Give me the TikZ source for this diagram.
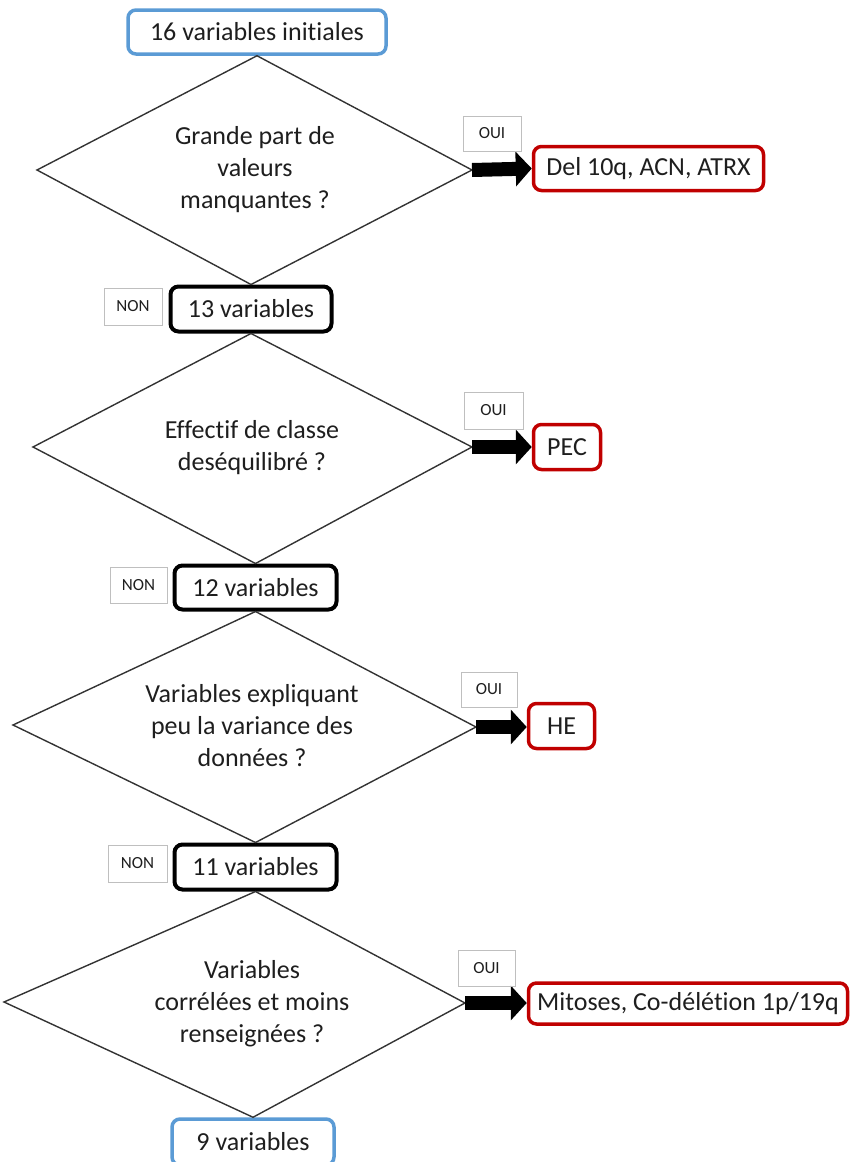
\documentclass[tikz,border=0pt]{standalone}
\usepackage{fontspec}
\setmainfont{Carlito}[Ligatures={NoCommon}]
\usetikzlibrary{arrows.meta}
\definecolor{boxblue}{RGB}{91,155,213}
\definecolor{boxred}{RGB}{192,0,0}
\definecolor{lblgray}{RGB}{191,191,191}
\definecolor{txt}{RGB}{30,30,30}
\tikzset{
  basebox/.style={rectangle, rounded corners=8pt, inner sep=0pt, text=txt,
    font=\fontsize{26}{32}\selectfont},
  bluebox/.style={basebox, draw=boxblue, line width=3.5pt},
  blackbox/.style={basebox, draw=black, line width=4pt},
  redbox/.style={basebox, draw=boxred, line width=3.5pt},
  answer/.style={rectangle, draw=lblgray, line width=1pt, inner sep=0pt,
    text=txt, font=\fontsize{17}{20}\selectfont},
  question/.style={align=center, text=txt, font=\fontsize{26}{32}\selectfont, inner sep=0pt},
  diamondline/.style={draw=black!80, line width=1.4pt, line join=miter},
  blockarrow/.style={line width=14pt, draw=black, line cap=butt,
    -{Triangle[length=16pt,width=34pt]}}
}
\begin{document}
\begin{tikzpicture}[x=1pt,y=-1pt]
\useasboundingbox (0,0) rectangle (851,1162);

% boxes on the main axis
\node[bluebox, minimum width=258pt, minimum height=44pt] (init) at (257,32) {16 variables initiales};
\node[blackbox, minimum width=161pt, minimum height=45pt] (n13) at (251,309) {13 variables};
\node[blackbox, minimum width=162pt, minimum height=44pt] (n12) at (255.5,587.5) {12 variables};
\node[blackbox, minimum width=162pt, minimum height=45pt] (n11) at (255.5,867) {11 variables};
\node[bluebox, minimum width=162pt, minimum height=46pt] (n9) at (253,1142) {9 variables};

% diamond side vertices
\coordinate (d1l) at (37,170);  \coordinate (d1r) at (472,170);
\coordinate (d2l) at (33,447);  \coordinate (d2r) at (472,447);
\coordinate (d3l) at (13,725);  \coordinate (d3r) at (476,727);
\coordinate (d4l) at (4,1002);  \coordinate (d4r) at (465,1003);

% diamonds
\draw[diamondline] (init.south) -- (d1r) -- (n13.north) -- (d1l) -- cycle;
\draw[diamondline] (n13.south) -- (d2r) -- (n12.north) -- (d2l) -- cycle;
\draw[diamondline] (n12.south) -- (d3r) -- (n11.north) -- (d3l) -- cycle;
\draw[diamondline] (n11.south) -- (d4r) -- (n9.north) -- (d4l) -- cycle;

% questions
\node[question] (q1) at (255,170) {Grande part de\\valeurs\\manquantes ?};
\node[question] (q2) at (252,448) {Effectif de classe\\deséquilibré ?};
\node[question] (q3) at (252,726) {Variables expliquant\\peu la variance des\\données ?};
\node[question] (q4) at (252,1004) {Variables\\corrélées et moins\\renseignées ?};

% rejected variables
\node[redbox, minimum width=230pt, minimum height=44pt] (r1) at (648.5,168.5) {Del 10q, ACN, ATRX};
\node[redbox, minimum width=67pt, minimum height=45pt] (r2) at (567,447) {PEC};
\node[redbox, minimum width=66pt, minimum height=45pt] (r3) at (561.5,726) {HE};
\node[redbox, minimum width=319pt, minimum height=41pt] (r4) at (688,1003.5) {Mitoses, Co-délétion 1p/19q};

% OUI arrows
\draw[blockarrow] (d1r) -- (r1.west);
\draw[blockarrow] (d2r) -- (r2.west);
\draw[blockarrow] (d3r) -- (r3.west |- d3r);
\draw[blockarrow] (d4r) -- (r4.west |- d4r);

% labels
\node[answer, minimum width=58pt, minimum height=35pt] (o1) at (492,133.5) {OUI};
\node[answer, minimum width=59pt, minimum height=37pt] (o2) at (493.5,410.5) {OUI};
\node[answer, minimum width=56pt, minimum height=35pt] (o3) at (489,689.5) {OUI};
\node[answer, minimum width=57pt, minimum height=36pt] (o4) at (486.5,968) {OUI};
\node[answer, minimum width=58pt, minimum height=37pt] (nn1) at (133,306.5) {NON};
\node[answer, minimum width=57pt, minimum height=36pt] (nn2) at (138.5,585) {NON};
\node[answer, minimum width=59pt, minimum height=37pt] (nn3) at (137.5,863.5) {NON};
\end{tikzpicture}
\end{document}
